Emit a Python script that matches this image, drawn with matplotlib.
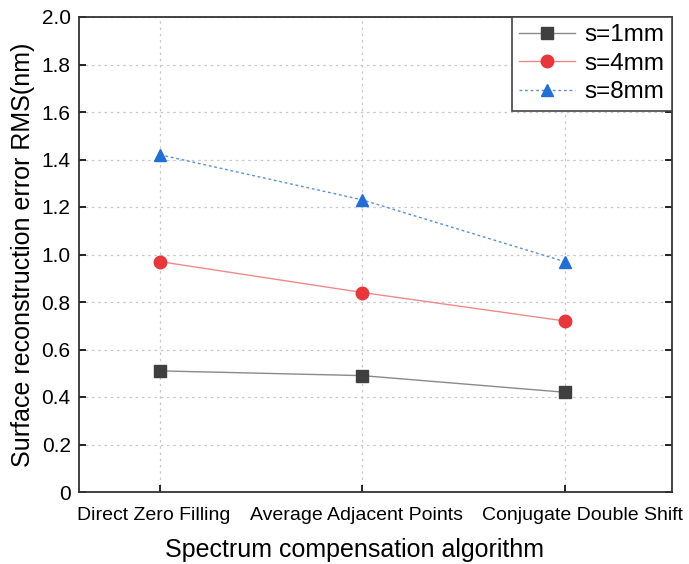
import matplotlib
matplotlib.use("Agg")
import matplotlib.pyplot as plt
import numpy as np

plt.rcParams['font.family'] = ['Liberation Sans', 'DejaVu Sans']

# data
algorithms = ["Direct Zero Filling", "Average Adjacent Points", "Conjugate Double Shift"]
rms_s1 = [0.51, 0.49, 0.42]
rms_s4 = [0.97, 0.84, 0.72]
rms_s8 = [1.42, 1.23, 0.97]
yticks = [0, 0.2, 0.4, 0.6, 0.8, 1.0, 1.2, 1.4, 1.6, 1.8, 2.0]
ytick_labels = ["0", "0.2", "0.4", "0.6", "0.8", "1.0", "1.2", "1.4", "1.6", "1.8", "2.0"]

fig = plt.figure(figsize=(6.89, 5.64), dpi=100)
ax = fig.add_axes([79/689, 1 - 492/564, (672-79)/689, (492-17)/564])

x = np.arange(len(algorithms))

ax.plot(x, rms_s1, color="#8a8a8a", lw=1.0, marker="s", ms=8,
        mfc="#3f3f3f", mec="#3f3f3f", label="s=1mm", zorder=3)
ax.plot(x, rms_s4, color="#ec8a8a", lw=1.0, marker="o", ms=9,
        mfc="#e8363a", mec="#e8363a", label="s=4mm", zorder=3)
ax.plot(x, rms_s8, color="#5b8fd6", lw=1.0, ls=(0, (2, 2)), marker="^", ms=9,
        mfc="#1f6fd6", mec="#1f6fd6", label="s=8mm", zorder=3)

ax.set_xlim(-0.4, 2.53)
ax.set_ylim(0, 2.0)
ax.set_xticks(x)
ax.set_xticklabels([])
ax.set_yticks(yticks)
ax.set_yticklabels(ytick_labels, fontsize=15)

# category labels, nudged sideways so they don't collide
shifts = [-6, -6, 18]
for xi, name, dx in zip(x, algorithms, shifts):
    ax.annotate(name, xy=(xi, 0), xycoords=("data", "axes fraction"),
                xytext=(dx, -15), textcoords="offset pixels",
                ha="center", va="top", fontsize=14)

ax.grid(True, color="#c8c8c8", ls=(0, (2, 3)), lw=0.9)
ax.tick_params(direction="in", length=5, width=1.2, right=True, top=False)
ax.tick_params(axis="y", pad=6)

for sp in ax.spines.values():
    sp.set_linewidth(1.3)
    sp.set_color("#333333")

ax.set_xlabel("Spectrum compensation algorithm", fontsize=18)
ax.xaxis.set_label_coords(0.465, -0.097)
ax.set_ylabel("Surface reconstruction error RMS(nm)", fontsize=18, labelpad=5)

leg = ax.legend(loc="upper right", fontsize=17.5, fancybox=False, framealpha=1,
                edgecolor="#444444", borderaxespad=0, handlelength=2.3,
                labelspacing=0.27, borderpad=0.3, handletextpad=0.4)
leg.get_frame().set_linewidth(1.2)

fig.savefig("out.png", dpi=100)
